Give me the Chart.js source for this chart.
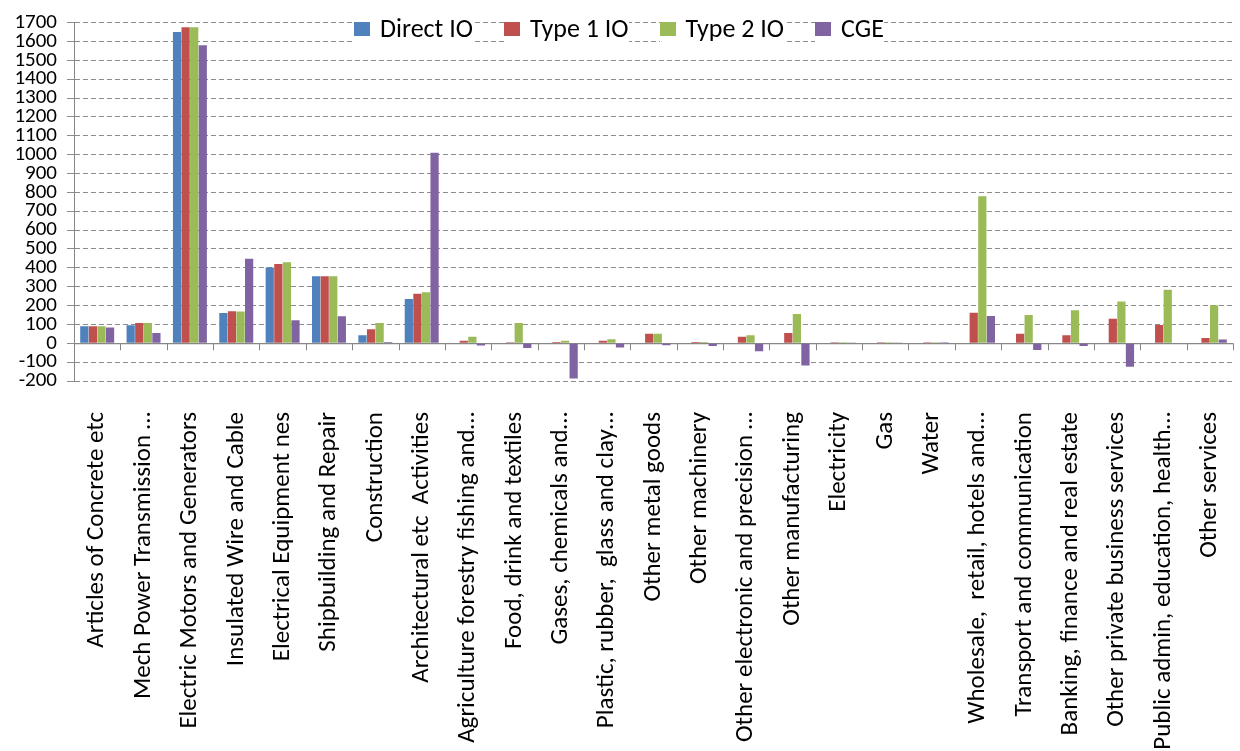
<!DOCTYPE html>
<html>
<head>
<meta charset="utf-8">
<script src="https://cdn.jsdelivr.net/npm/chart.js@4"></script>
<style>
  html, body { margin: 0; padding: 0; background: #fff; }
  #wrap { position: relative; width: 1240px; height: 751px; }
  #legend { position: absolute; top: 13px; left: 354px; display: flex; font: 26px 'Carlito', 'Lato', sans-serif; color: #000; line-height: 31px; }
  #legend span.item { display: flex; align-items: center; margin-right: 31px; white-space: nowrap; background: #fff; }
  #legend span.box { width: 16px; height: 14px; margin-right: 10px; display: inline-block; }
</style>
</head>
<body>
<div id="wrap">
  <canvas id="chart" width="1240" height="751"></canvas>
  <div id="legend"></div>
</div>
<script>
// categories
const sectors = [
  'Articles of Concrete etc',
  'Mech Power Transmission …',
  'Electric Motors and Generators',
  'Insulated Wire and Cable',
  'Electrical Equipment nes',
  'Shipbuilding and Repair',
  'Construction',
  'Architectural etc  Activities',
  'Agriculture forestry fishing and…',
  'Food, drink and textiles',
  'Gases, chemicals and…',
  'Plastic, rubber,  glass and clay…',
  'Other metal goods',
  'Other machinery',
  'Other electronic and precision …',
  'Other manufacturing',
  'Electricity',
  'Gas',
  'Water',
  'Wholesale,  retail, hotels and…',
  'Transport and communication',
  'Banking, finance and real estate',
  'Other private business services',
  'Public admin, education, health…',
  'Other services'
];

// series values
const directIO = [90, 95, 1650, 160, 402, 355, 42, 235, 0, 0, 0, 0, 0, 0, 0, 0, 0, 0, 0, 0, 0, 0, 0, 0, 0];
const type1IO  = [90, 108, 1675, 170, 420, 355, 74, 262, 14, 5, 7, 14, 50, 7, 35, 55, 5, 5, 5, 162, 50, 42, 130, 97, 28];
const type2IO  = [90, 108, 1675, 168, 430, 355, 108, 270, 35, 108, 14, 21, 50, 7, 42, 155, 5, 5, 5, 780, 150, 175, 222, 284, 202];
const cge      = [83, 55, 1580, 448, 122, 143, 7, 1010, -12, -25, -187, -22, -10, -15, -42, -118, 2, 2, 5, 145, -35, -15, -125, 0, 20];

const seriesNames = ['Direct IO', 'Type 1 IO', 'Type 2 IO', 'CGE'];
const seriesColors = ['#4F81BD', '#C0504D', '#9BBB59', '#8064A2'];

// y axis ticks
const yMin = -200;
const yMax = 1700;
const yStep = 100;

const fontFamily = "'Carlito', 'Lato', sans-serif";

// trait de zéro + petites graduations entre catégories
const zeroLinePlugin = {
  id: 'zeroLine',
  beforeDatasetsDraw(chart) {
    const ctx = chart.ctx;
    const x = chart.scales.x;
    const y0 = chart.scales.y.getPixelForValue(0);
    ctx.save();
    ctx.strokeStyle = '#868686';
    ctx.lineWidth = 1;
    ctx.beginPath();
    ctx.moveTo(x.left, y0 + 0.5);
    ctx.lineTo(x.right, y0 + 0.5);
    const w = (x.right - x.left) / sectors.length;
    for (let i = 1; i <= sectors.length; i++) {
      const px = Math.round(x.left + i * w) + 0.5;
      ctx.moveTo(px, y0);
      ctx.lineTo(px, y0 + 7);
    }
    ctx.stroke();
    ctx.restore();
  }
};

const allSeries = [directIO, type1IO, type2IO, cge];

const config = {
  type: 'bar',
  data: {
    labels: sectors,
    datasets: allSeries.map((vals, i) => ({
      label: seriesNames[i],
      data: vals,
      backgroundColor: seriesColors[i],
      borderWidth: 0,
      categoryPercentage: 0.74,
      barPercentage: 0.96
    }))
  },
  options: {
    responsive: false,
    animation: false,
    layout: { padding: { top: 19, right: 7, left: 0, bottom: 0 } },
    plugins: {
      legend: { display: false },
      tooltip: { enabled: false }
    },
    scales: {
      x: {
        grid: { display: false },
        border: { display: false },
        ticks: {
          autoSkip: false,
          minRotation: 90,
          maxRotation: 90,
          padding: 23,
          color: '#000',
          font: { family: fontFamily, size: 25 }
        },
        afterFit(scale) {
          scale.height = 370;
          scale.paddingLeft = 0;
          scale.paddingRight = 0;
        }
      },
      y: {
        min: yMin,
        max: yMax,
        grid: {
          color: '#8c8c8c',
          lineWidth: 1,
          tickLength: 7,
          tickColor: '#8c8c8c'
        },
        border: {
          display: true,
          color: '#868686',
          width: 1,
          dash: ctx => (ctx.tick && ctx.tick.value === 0 ? [] : [5, 3])
        },
        ticks: {
          stepSize: yStep,
          autoSkip: false,
          padding: 10,
          color: '#000',
          font: { family: fontFamily, size: 21 },
          callback: v => String(v)
        },
        afterFit(scale) { scale.width = 74; }
      }
    }
  },
  plugins: [zeroLinePlugin]
};

new Chart(document.getElementById('chart').getContext('2d'), config);

// légende HTML posée sur la zone du graphique
const legend = document.getElementById('legend');
seriesNames.forEach((name, i) => {
  const item = document.createElement('span');
  item.className = 'item';
  const box = document.createElement('span');
  box.className = 'box';
  box.style.background = seriesColors[i];
  item.appendChild(box);
  item.appendChild(document.createTextNode(name));
  legend.appendChild(item);
});
</script>
</body>
</html>
